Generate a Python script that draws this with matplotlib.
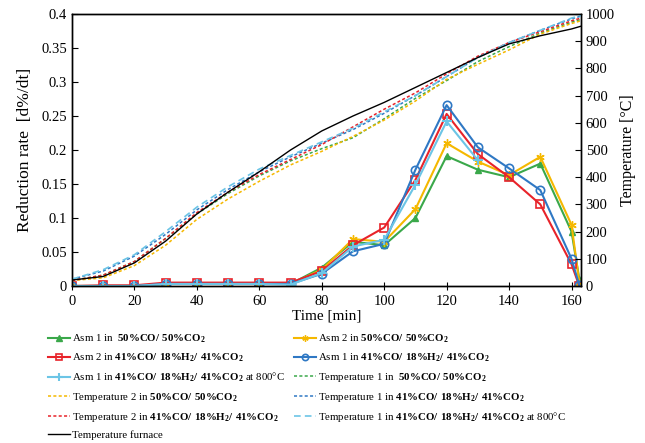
import numpy as np
import matplotlib.pyplot as plt

plt.rcParams['font.family'] = 'Liberation Serif'
plt.rcParams['mathtext.fontset'] = 'custom'
plt.rcParams['mathtext.rm'] = 'Liberation Serif'
plt.rcParams['mathtext.bf'] = 'Liberation Serif:bold'

#%% Datos

# velocidad de reduccion [d%/dt]
t_red = [0, 10, 20, 30, 40, 50, 60, 70, 80, 90, 100, 110, 120, 130, 140, 150, 160, 162.5]
asm1_50co = [0, 0, 0, 0.003, 0.004, 0.004, 0.004, 0.003, 0.027, 0.065, 0.060, 0.100, 0.191, 0.171, 0.160, 0.180, 0.080, 0.010]
asm2_50co = [0, 0, 0, 0.003, 0.004, 0.004, 0.004, 0.003, 0.024, 0.069, 0.065, 0.113, 0.210, 0.183, 0.163, 0.190, 0.090, 0.005]
asm2_41co = [0, 0.001, 0.001, 0.005, 0.005, 0.005, 0.005, 0.005, 0.022, 0.060, 0.086, 0.156, 0.253, 0.194, 0.160, 0.120, 0.032, 0.0]
asm1_41co = [0, 0, 0, 0.003, 0.003, 0.003, 0.003, 0.003, 0.018, 0.051, 0.062, 0.171, 0.266, 0.204, 0.173, 0.141, 0.040, 0.001]
# el de 800 C termina en 130 min
t_red_800 = [0, 10, 20, 30, 40, 50, 60, 70, 80, 90, 100, 110, 120, 130]
asm1_800 = [0, 0, 0, 0.003, 0.003, 0.003, 0.003, 0.002, 0.019, 0.058, 0.068, 0.149, 0.242, 0.185]

# temperaturas [C]
t_temp = [0, 10, 20, 30, 40, 50, 60, 70, 80, 90, 100, 110, 120, 130, 140, 150, 160, 163]
temp1_50co = [20, 40, 90, 175, 265, 340, 405, 460, 505, 545, 615, 690, 755, 825, 880, 930, 970, 980]
temp2_50co = [20, 30, 75, 150, 245, 320, 385, 445, 495, 550, 610, 680, 760, 815, 868, 926, 965, 975]
temp1_41co = [25, 55, 110, 190, 280, 355, 420, 475, 525, 575, 635, 700, 770, 840, 895, 940, 982, 992]
temp2_41co = [20, 40, 90, 175, 270, 345, 410, 465, 520, 585, 650, 710, 780, 845, 895, 935, 975, 985]
temp1_800 = [25, 60, 115, 200, 290, 365, 430, 480, 530, 580, 640, 700, 770, 840, 895, 940, 985, 995]
temp_horno = [22, 35, 85, 165, 265, 345, 420, 500, 570, 625, 675, 730, 785, 840, 890, 920, 945, 955]

#%% Graficar

verde = '#3aa84a'
amarillo = '#f5b800'
rojo = '#e8232a'
azul = '#2f78c4'
celeste = '#6cc5e6'

fig = plt.figure(figsize=(6.45, 4.43), dpi=100)
ax = fig.add_axes([0.1116, 0.3544, 0.789, 0.614])
ax2 = ax.twinx()

lbl_50 = r'$\mathbf{50\%CO/\ 50\%CO_2}$'
lbl_41 = r'$\mathbf{41\%CO/\ 18\%H_2/\ 41\%CO_2}$'

h = []
h += ax.plot(t_red, asm1_50co, '-^', color=verde, lw=1.5, ms=5, label='Asm 1 in  ' + lbl_50)
h += ax.plot(t_red, asm2_50co, '-', marker=(6, 2, 0), color=amarillo, lw=1.5, ms=6, label='Asm 2 in ' + lbl_50)
h += ax.plot(t_red, asm2_41co, '-s', color=rojo, lw=1.5, ms=6, mfc='none', mew=1.2, label='Asm 2 in ' + lbl_41)
h += ax.plot(t_red, asm1_41co, '-o', color=azul, lw=1.5, ms=6, mfc='none', mew=1.2, label='Asm 1 in ' + lbl_41)
h += ax.plot(t_red_800, asm1_800, '-+', color=celeste, lw=1.5, ms=7, mew=1.5, label='Asm 1 in ' + lbl_41 + ' at 800°C')

punteado = (0, (2, 1.5))
h += ax2.plot(t_temp, temp1_50co, color=verde, ls=punteado, lw=1.1, label='Temperature 1 in  ' + lbl_50)
h += ax2.plot(t_temp, temp2_50co, color=amarillo, ls=punteado, lw=1.1, label='Temperature 2 in ' + lbl_50)
h += ax2.plot(t_temp, temp1_41co, color=azul, ls=punteado, lw=1.1, label='Temperature 1 in ' + lbl_41)
h += ax2.plot(t_temp, temp2_41co, color=rojo, ls=punteado, lw=1.1, label='Temperature 2 in ' + lbl_41)
h += ax2.plot(t_temp, temp1_800, color=celeste, ls=(0, (4, 2.5)), lw=1.2, label='Temperature 1 in ' + lbl_41 + ' at 800°C')
h += ax2.plot(t_temp, temp_horno, color='black', lw=1.0, label='Temperature furnace')

ax.set_xlim(0, 163)
ax.set_ylim(0, 0.4)
ax2.set_ylim(0, 1000)
ax.set_xticks(np.arange(0, 161, 20))
ax.set_yticks(np.arange(0, 0.401, 0.05))
ax.set_yticklabels(['{:g}'.format(round(v, 2)) for v in np.arange(0, 0.401, 0.05)])
ax2.set_yticks(np.arange(0, 1001, 100))

ax.tick_params(axis='x', direction='inout', length=6, labelsize=10.5)
ax.tick_params(axis='y', direction='in', length=4, labelsize=10.5)
ax2.tick_params(axis='y', direction='in', length=4, labelsize=10.5)
for a in (ax, ax2):
    for s in a.spines.values():
        s.set_linewidth(1.0)

ax.set_xlabel('Time [min]', fontsize=11, labelpad=1)
ax.set_ylabel('Reduction rate  [d%/dt]', fontsize=12.5, labelpad=6)
ax2.set_ylabel('Temperature [°C]', fontsize=11.5, labelpad=4)

# la leyenda va por filas, matplotlib llena por columnas -> reordenar
orden = [0, 2, 4, 6, 8, 10, 1, 3, 5, 7, 9]
fig.legend([h[i] for i in orden], [h[i].get_label() for i in orden],
           loc='upper left', bbox_to_anchor=(0.066, 0.262), ncol=2, frameon=False,
           fontsize=7.8, handlelength=2.0, handletextpad=0.25, columnspacing=0.8,
           labelspacing=0.62, borderpad=0, markerscale=0.75)

plt.savefig('out.png', dpi=100)
